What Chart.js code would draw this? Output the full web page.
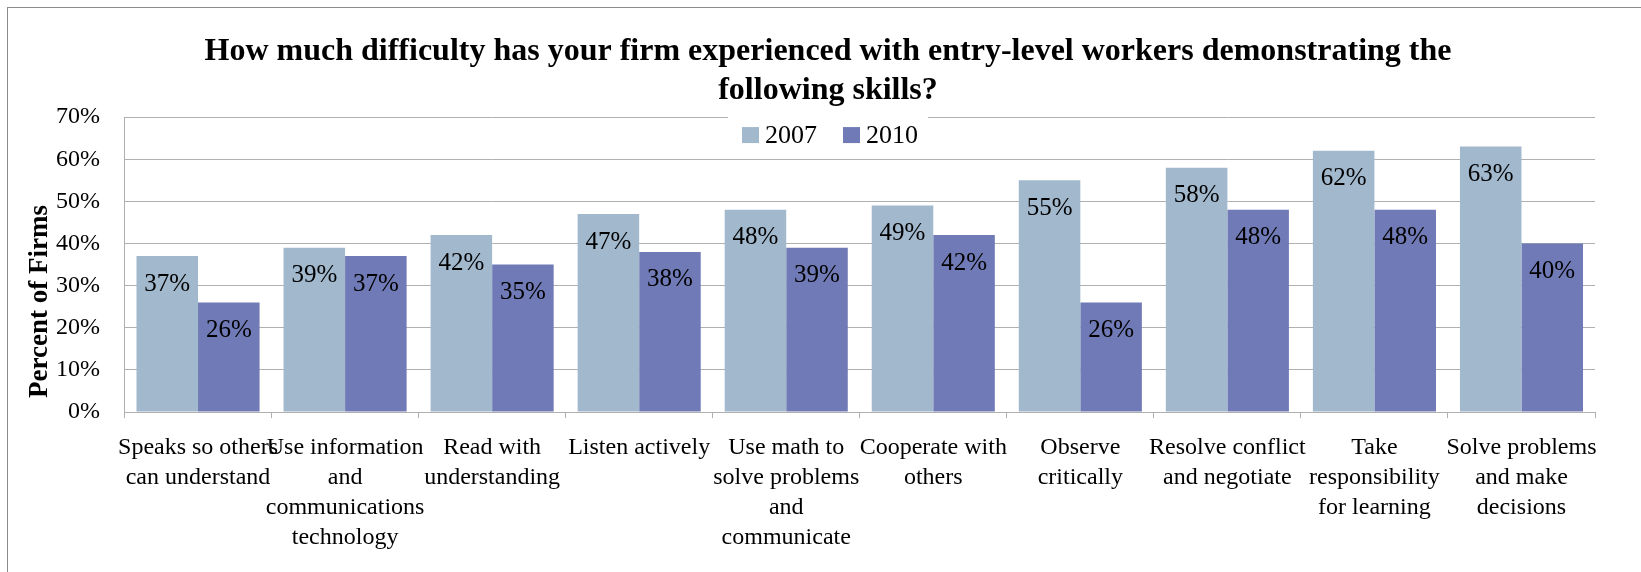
<!DOCTYPE html>
<html>
<head>
<meta charset="utf-8">
<script src="https://cdn.jsdelivr.net/npm/chart.js@4.4.1/dist/chart.umd.min.js"></script>
<style>
  html, body { margin: 0; padding: 0; background: #fff; }
  #frame {
    position: absolute; left: 7px; top: 7px; width: 1634px; height: 565px;
    border-top: 1px solid #8c8c8c; border-left: 1px solid #8c8c8c;
  }
  #c { position: absolute; left: 0; top: 0; }
</style>
</head>
<body>
<div id="frame"></div>
<canvas id="c" width="1641" height="572"></canvas>
<script>
// Survey question and axis text
const titleLines = [
  'How much difficulty has your firm experienced with entry-level workers demonstrating the',
  'following skills?'
];
const yAxisTitle = 'Percent of Firms';

// Skill categories (pre-wrapped into lines)
const categories = [
  ['Speaks so others', 'can understand'],
  ['Use information', 'and', 'communications', 'technology'],
  ['Read with', 'understanding'],
  ['Listen actively'],
  ['Use math to', 'solve problems', 'and', 'communicate'],
  ['Cooperate with', 'others'],
  ['Observe', 'critically'],
  ['Resolve conflict', 'and negotiate'],
  ['Take', 'responsibility', 'for learning'],
  ['Solve problems', 'and make', 'decisions']
];

// Share of firms reporting difficulty, in percent
const seriesNames = ['2007', '2010'];
const values2007 = [37, 39, 42, 47, 48, 49, 55, 58, 62, 63];
const values2010 = [26, 37, 35, 38, 39, 42, 26, 48, 48, 40];

// Value axis
const yMin = 0;
const yMax = 70;
const yStep = 10;

const colors = ['#A2B8CD', '#707AB6'];
const gridColor = '#b0b0b0';
const serif = '"Liberation Serif", "Times New Roman", serif';

Chart.defaults.font.family = serif;
Chart.defaults.color = '#000';

// Percent labels inside the top of every bar
const valueLabels = {
  id: 'valueLabels',
  afterDatasetsDraw(chart) {
    const ctx = chart.ctx;
    ctx.save();
    ctx.font = '25px ' + serif;
    ctx.fillStyle = '#000';
    ctx.textAlign = 'center';
    ctx.textBaseline = 'middle';
    chart.data.datasets.forEach((ds, i) => {
      chart.getDatasetMeta(i).data.forEach((bar, j) => {
        ctx.fillText(ds.data[j] + '%', bar.x, bar.y + 28);
      });
    });
    ctx.restore();
  }
};

// Rotated value-axis title
const yTitlePlugin = {
  id: 'yTitlePlugin',
  afterDraw(chart) {
    const ctx = chart.ctx;
    const area = chart.chartArea;
    ctx.save();
    ctx.translate(40, (area.top + area.bottom) / 2 + 37);
    ctx.rotate(-Math.PI / 2);
    ctx.font = 'bold 27px ' + serif;
    ctx.fillStyle = '#000';
    ctx.textAlign = 'center';
    ctx.textBaseline = 'middle';
    ctx.fillText(yAxisTitle, 0, 0);
    ctx.restore();
  }
};

// Centre the title block over the region right of the axis-title gutter
const titleGutter = {
  id: 'titleGutter',
  afterLayout(chart) {
    chart.titleBlock.left += 21;
  }
};

// Legend sitting across the top gridline, centred under the title
const insetLegend = {
  id: 'insetLegend',
  afterDraw(chart) {
    const ctx = chart.ctx;
    const area = chart.chartArea;
    const tb = chart.titleBlock;
    const cx = (tb.left + tb.right) / 2 + 2;
    const box = 16, gapIn = 7, gapOut = 26;
    ctx.save();
    ctx.font = '26px ' + serif;
    const items = chart.data.datasets.map(ds => ({
      label: ds.label, color: ds.backgroundColor, w: ctx.measureText(ds.label).width
    }));
    let total = 0;
    items.forEach((it, i) => { total += box + gapIn + it.w + (i < items.length - 1 ? gapOut : 0); });
    let x = cx - total / 2;
    const base = area.top + 26;
    ctx.fillStyle = '#fff';
    ctx.fillRect(x - 14, area.top - 8, total + 24, 38);
    items.forEach(it => {
      ctx.fillStyle = it.color;
      ctx.fillRect(x, base - box, box + 1, box);
      x += box + gapIn;
      ctx.fillStyle = '#000';
      ctx.textAlign = 'left';
      ctx.textBaseline = 'alphabetic';
      ctx.fillText(it.label, x, base);
      x += it.w + gapOut;
    });
    ctx.restore();
  }
};

new Chart(document.getElementById('c'), {
  type: 'bar',
  data: {
    labels: categories,
    datasets: [
      { label: seriesNames[0], data: values2007, backgroundColor: colors[0] },
      { label: seriesNames[1], data: values2010, backgroundColor: colors[1] }
    ]
  },
  options: {
    responsive: false,
    animation: false,
    events: [],
    layout: { padding: { left: 40, right: 46, top: 0, bottom: 0 } },
    datasets: { bar: { categoryPercentage: 0.837, barPercentage: 1.0, borderWidth: 0 } },
    plugins: {
      legend: { display: false },
      tooltip: { enabled: false },
      title: {
        display: true,
        text: titleLines,
        color: '#000',
        font: { family: serif, size: 32, weight: 'bold', lineHeight: 1.22 },
        padding: { top: 32, bottom: 7 }
      }
    },
    scales: {
      x: {
        offset: true,
        grid: { display: true, drawOnChartArea: false, drawTicks: true, tickLength: 6, offset: true, color: gridColor },
        border: { display: true, color: gridColor },
        ticks: {
          autoSkip: false, maxRotation: 0, minRotation: 0, padding: 15,
          font: { family: serif, size: 24, lineHeight: 1.25 }, color: '#000'
        },
        afterFit(scale) { scale.height = 160; }
      },
      y: {
        min: yMin, max: yMax,
        grid: { color: gridColor, drawTicks: false, tickLength: 0 },
        border: { display: true, color: gridColor },
        ticks: {
          stepSize: yStep, padding: 24.5,
          font: { family: serif, size: 24 }, color: '#000',
          callback: v => v + '%'
        },
        afterFit(scale) { scale.width = 84.5; }
      }
    }
  },
  plugins: [titleGutter, valueLabels, yTitlePlugin, insetLegend]
});
</script>
</body>
</html>
